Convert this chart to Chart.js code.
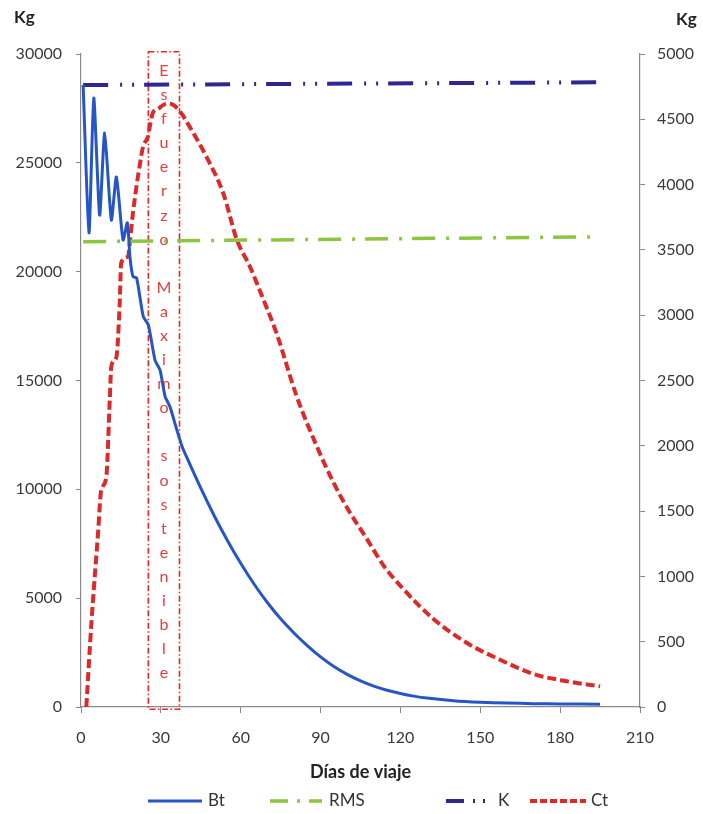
<!DOCTYPE html>
<html>
<head>
<meta charset="utf-8">
<script src="https://cdn.jsdelivr.net/npm/chart.js@4.4.1/dist/chart.umd.min.js"></script>
<style>
  html, body { margin: 0; padding: 0; background: #ffffff; }
  #c { display: block; }
</style>
</head>
<body>
<canvas id="c" width="703" height="814"></canvas>
<script>
// Biomasa (Bt) y captura acumulada (Ct) a lo largo del viaje
const btDays = [0.8, 3, 4.8, 7, 8.9, 11.4, 13.3, 15.8, 17.4, 18.4, 19, 19.6, 20.9, 23.4, 25.3, 27.8, 29.7, 31.6, 33.4, 36, 38, 40, 45, 50, 55, 60, 65, 70, 75, 80, 85, 90, 95, 100, 105, 110, 115, 120, 125, 130, 140, 150, 160, 170, 180, 195];
const btValues = [28575, 21780, 27980, 22600, 26370, 22370, 24350, 21450, 22240, 20670, 20080, 19770, 19710, 17930, 17550, 15940, 15480, 14260, 13800, 12730, 11960, 11400, 10050, 8800, 7650, 6600, 5650, 4800, 4050, 3400, 2820, 2300, 1860, 1500, 1200, 960, 770, 620, 500, 410, 290, 220, 180, 155, 140, 130];

const ctDays = [2, 3.9, 6.4, 7.6, 9.5, 10.8, 11.4, 13.3, 14.5, 15.1, 17.7, 18.3, 19.5, 20.8, 22, 23.3, 25.2, 25.8, 27, 29, 30.9, 32.8, 34.7, 37.2, 40.9, 47.2, 53.5, 58.5, 63.5, 68.5, 73.5, 81, 88.5, 94.8, 101, 107.3, 113.6, 119.9, 132.3, 145, 157.4, 170, 182.5, 195];
const ctValues = [0, 640, 1330, 1660, 1760, 2350, 2610, 2680, 3070, 3400, 3450, 3550, 3780, 3980, 4140, 4290, 4370, 4440, 4550, 4580, 4610, 4620, 4610, 4560, 4440, 4210, 3930, 3580, 3370, 3120, 2860, 2380, 2000, 1720, 1490, 1290, 1085, 930, 676, 490, 362, 253, 197, 158];

// Capacidad de carga (K) y rendimiento máximo sostenible (RMS)
const kDays = [0.8, 195];
const kValues = [28575, 28700];
const rmsDays = [0.8, 195];
const rmsValues = [21380, 21600];

// Ejes
const xTicks = [0, 30, 60, 90, 120, 150, 180, 210];
const leftTicks = [0, 5000, 10000, 15000, 20000, 25000, 30000];
const rightTicks = [0, 500, 1000, 1500, 2000, 2500, 3000, 3500, 4000, 4500, 5000];

// Ventana de esfuerzo máximo sostenible (días, Kg eje izquierdo)
const effortStart = 25.3;
const effortEnd = 37;
const effortTop = 30100;
const effortBottom = -100;
const effortLabel = 'Esfuerzo Maximo sostenible';

const legendItems = ['Bt', 'RMS', 'K', 'Ct'];

const COLORS = { bt: '#2556c4', rms: '#8cc63e', k: '#2f268f', ct: '#dc2a2a', box: '#ec2424', axis: '#8a8a8a', text: '#3a3a3a' };
const DASH = { rms: [23, 11, 3, 10], k: [25, 12, 2, 10, 2, 10], ct: [9, 4] };
const FONT = 'Lato, "Open Sans", sans-serif';

const toPoints = (xs, ys) => xs.map((x, i) => ({ x: x, y: ys[i] }));
const plain = v => String(v);

const effortPlugin = {
  id: 'effortWindow',
  beforeDatasetsDraw(chart) {
    const { ctx, scales } = chart;
    const x0 = scales.x.getPixelForValue(effortStart);
    const x1 = scales.x.getPixelForValue(effortEnd);
    const y0 = scales.y.getPixelForValue(effortTop);
    const y1 = scales.y.getPixelForValue(effortBottom);
    ctx.save();
    ctx.strokeStyle = COLORS.box;
    ctx.lineWidth = 1.6;
    ctx.setLineDash([6, 2.5, 1.5, 2.5]);
    ctx.strokeRect(x0, y0, x1 - x0, y1 - y0);
    ctx.setLineDash([]);
    const chars = effortLabel.split('');
    const firstY = y0 + 19;
    const lastY = y1 - 36;
    const step = (lastY - firstY) / (chars.length - 1);
    ctx.fillStyle = '#e83c3c';
    ctx.font = '16px ' + FONT;
    ctx.textAlign = 'center';
    ctx.textBaseline = 'middle';
    const cx = (x0 + x1) / 2;
    chars.forEach((ch, i) => { if (ch !== ' ') ctx.fillText(ch, cx, firstY + i * step); });
    ctx.restore();
  }
};

const decorPlugin = {
  id: 'decor',
  afterDraw(chart) {
    const { ctx } = chart;
    ctx.save();
    ctx.fillStyle = '#222';
    ctx.font = 'bold 17px ' + FONT;
    ctx.textBaseline = 'middle';
    ctx.textAlign = 'left';
    ctx.fillText('Kg', 14, 18);
    ctx.fillText('Kg', 676, 20);

    // Leyenda
    const y = 801;
    const samples = [
      { x0: 148, x1: 202, color: COLORS.bt, w: 3, dash: [], label: legendItems[0], tx: 208 },
      { x0: 270, x1: 322, color: COLORS.rms, w: 3.5, dash: [18, 9, 3, 9], label: legendItems[1], tx: 329 },
      { x0: 446, x1: 490, color: COLORS.k, w: 4, dash: [18, 9, 2, 8, 2, 8], label: legendItems[2], tx: 498 },
      { x0: 530, x1: 586, color: COLORS.ct, w: 4, dash: [7, 3], label: legendItems[3], tx: 591 }
    ];
    samples.forEach(s => {
      ctx.beginPath();
      ctx.strokeStyle = s.color;
      ctx.lineWidth = s.w;
      ctx.setLineDash(s.dash);
      ctx.moveTo(s.x0, y);
      ctx.lineTo(s.x1, y);
      ctx.stroke();
      ctx.setLineDash([]);
      ctx.fillStyle = '#333';
      ctx.font = '17px ' + FONT;
      ctx.fillText(s.label, s.tx, y);
    });
    ctx.restore();
  }
};

new Chart(document.getElementById('c'), {
  type: 'line',
  data: {
    datasets: [
      { label: 'Bt', data: toPoints(btDays, btValues), yAxisID: 'y', borderColor: COLORS.bt, borderWidth: 3, pointRadius: 0, tension: 0.2, borderJoinStyle: 'round', fill: false },
      { label: 'RMS', data: toPoints(rmsDays, rmsValues), yAxisID: 'y', borderColor: COLORS.rms, borderWidth: 3.5, borderDash: DASH.rms, borderCapStyle: 'butt', pointRadius: 0, fill: false },
      { label: 'K', data: toPoints(kDays, kValues), yAxisID: 'y', borderColor: COLORS.k, borderWidth: 4, borderDash: DASH.k, borderCapStyle: 'butt', pointRadius: 0, fill: false },
      { label: 'Ct', data: toPoints(ctDays, ctValues), yAxisID: 'y1', borderColor: COLORS.ct, borderWidth: 4, borderDash: DASH.ct, borderCapStyle: 'butt', pointRadius: 0, cubicInterpolationMode: 'monotone', fill: false }
    ]
  },
  options: {
    responsive: false,
    animation: false,
    events: [],
    layout: { padding: { top: 54, bottom: 30, left: 0, right: 0 } },
    plugins: { legend: { display: false }, tooltip: { enabled: false }, title: { display: false } },
    scales: {
      x: {
        type: 'linear', min: 0, max: 210,
        afterBuildTicks: s => { s.ticks = xTicks.map(v => ({ value: v })); },
        afterFit: s => { s.height = 77; },
        ticks: { color: COLORS.text, font: { family: FONT, size: 16 }, padding: 15, maxRotation: 0, callback: plain },
        grid: { drawOnChartArea: false, tickLength: 6, color: COLORS.axis },
        border: { color: COLORS.axis, width: 1.2 },
        title: { display: true, text: 'Días de viaje', color: '#222', font: { family: FONT, size: 18, weight: 'bold' }, padding: { top: 0, bottom: 1 } }
      },
      y: {
        position: 'left', min: 0, max: 30000,
        afterBuildTicks: s => { s.ticks = leftTicks.map(v => ({ value: v })); },
        afterFit: s => { s.width = 81; },
        ticks: { color: COLORS.text, font: { family: FONT, size: 16 }, padding: 14, callback: plain },
        grid: { drawOnChartArea: false, tickLength: 5, color: COLORS.axis },
        border: { color: COLORS.axis, width: 1.2 }
      },
      y1: {
        position: 'right', min: 0, max: 5000,
        afterBuildTicks: s => { s.ticks = rightTicks.map(v => ({ value: v })); },
        afterFit: s => { s.width = 63; },
        ticks: { color: COLORS.text, font: { family: FONT, size: 16 }, padding: 12, callback: plain },
        grid: { drawOnChartArea: false, tickLength: 5, color: COLORS.axis },
        border: { color: COLORS.axis, width: 1.2 }
      }
    }
  },
  plugins: [effortPlugin, decorPlugin]
});
</script>
</body>
</html>
